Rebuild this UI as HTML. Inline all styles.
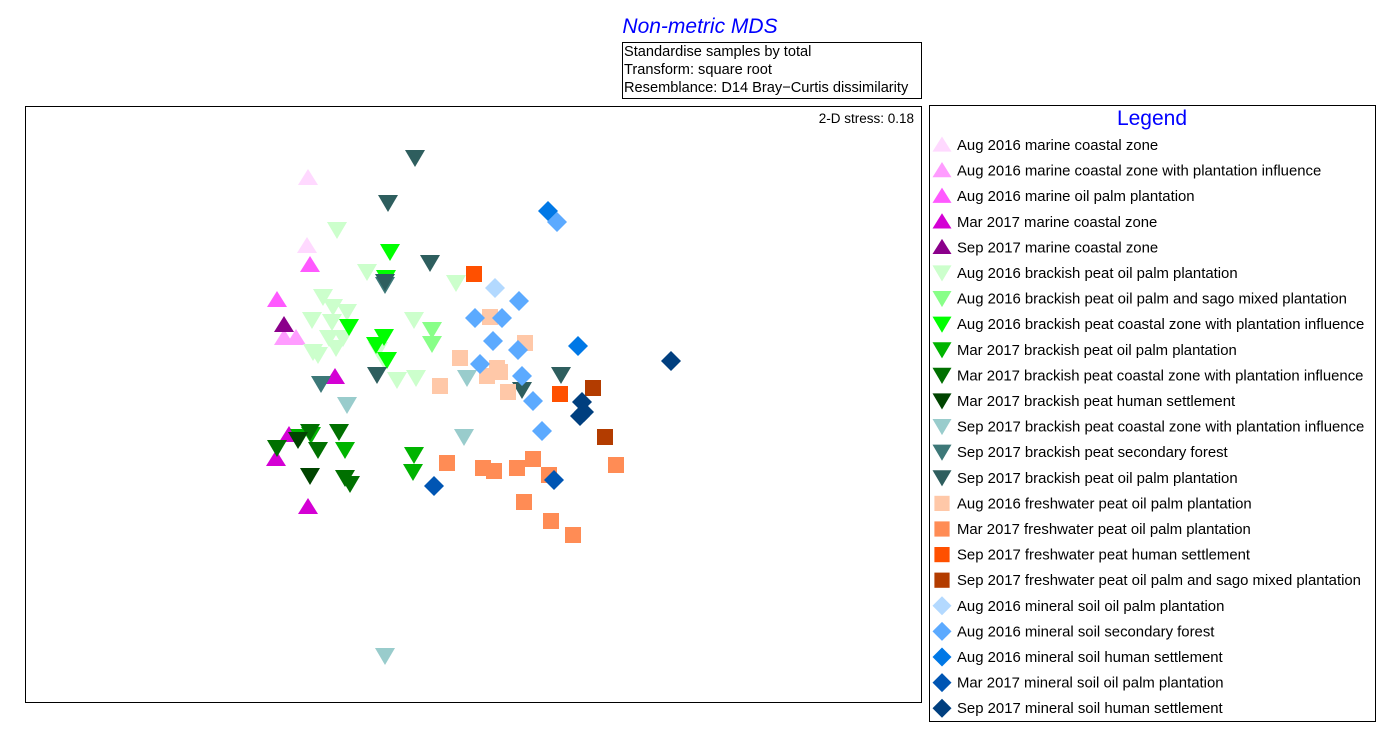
<!DOCTYPE html>
<html><head><meta charset="utf-8"><style>
body{margin:0;background:#fff;font-family:"Liberation Sans",Arial,sans-serif;}
svg text{font-family:"Liberation Sans",Arial,sans-serif;}
</style></head><body>
<svg id="chart" width="1400" height="741" xmlns="http://www.w3.org/2000/svg">
<text x="700" y="33" text-anchor="middle" font-size="21" font-style="italic" fill="#0000ff">Non-metric MDS</text>
<g>
<rect x="622.5" y="42.5" width="299" height="56" fill="none" stroke="#000"/>
<text x="624" y="56" font-size="14.6">Standardise samples by total</text>
<text x="624" y="74" font-size="14.6">Transform: square root</text>
<text x="624" y="92" font-size="14.6">Resemblance: D14 Bray−Curtis dissimilarity</text>
</g>
<rect x="25.5" y="106.5" width="896" height="596" fill="none" stroke="#000"/>
<text x="914" y="123" text-anchor="end" font-size="13.5">2-D stress: 0.18</text>
<rect x="929.5" y="105.5" width="446" height="616" fill="none" stroke="#000"/>
<text x="1152" y="125" text-anchor="middle" font-size="21" fill="#0000ff">Legend</text>
<g id="marks"></g>
<g id="legend"></g>
</svg>
<script>
const groupNames=["Aug 2016 marine coastal zone","Aug 2016 marine coastal zone with plantation influence","Aug 2016 marine oil palm plantation","Mar 2017 marine coastal zone","Sep 2017 marine coastal zone","Aug 2016 brackish peat oil palm plantation","Aug 2016 brackish peat oil palm and sago mixed plantation","Aug 2016 brackish peat coastal zone with plantation influence","Mar 2017 brackish peat oil palm plantation","Mar 2017 brackish peat coastal zone with plantation influence","Mar 2017 brackish peat human settlement","Sep 2017 brackish peat coastal zone with plantation influence","Sep 2017 brackish peat secondary forest","Sep 2017 brackish peat oil palm plantation","Aug 2016 freshwater peat oil palm plantation","Mar 2017 freshwater peat oil palm plantation","Sep 2017 freshwater peat human settlement","Sep 2017 freshwater peat oil palm and sago mixed plantation","Aug 2016 mineral soil oil palm plantation","Aug 2016 mineral soil secondary forest","Aug 2016 mineral soil human settlement","Mar 2017 mineral soil oil palm plantation","Sep 2017 mineral soil human settlement"];
const groupColors=["#ffd9ff","#ff9cff","#ff59ff","#d400d4","#8b008b","#ccffcc","#88ff88","#00ff00","#00b400","#007000","#004400","#99cccc","#3d7878","#2e5e5e","#ffc8a8","#ff8c55","#ff5000","#b33c00","#b3d9ff","#5caaff","#0078e6","#0055b3","#003f7f"];
const groupShapes=["up","up","up","up","up","down","down","down","down","down","down","down","down","down","sq","sq","sq","sq","dia","dia","dia","dia","dia"];
// MDS coordinates per group: [x,y] pairs
const groupPoints=[
[[-1.65,2.26],[-1.66,1.58]],
[[-1.89,0.66],[-1.77,0.66]],
[[-1.63,1.39],[-1.96,1.04]],
[[-1.38,0.27],[-1.84,-0.31],[-1.97,-0.55],[-1.65,-1.03]],
[[-1.89,0.79]],
[[-1.36,1.74],[-1.06,1.32],[-0.17,1.21],[-1.50,1.07],[-1.40,0.97],[-1.26,0.92],[-1.61,0.84],[-1.41,0.82],[-1.44,0.66],[-1.30,0.66],[-1.60,0.52],[-1.37,0.56],[-1.55,0.49],[-0.95,0.54],[-0.76,0.24],[-0.57,0.26],[-0.59,0.84],[-0.89,0.44]],
[[-0.41,0.74],[-0.41,0.60]],
[[-0.83,1.52],[-0.87,1.26],[-1.24,0.77],[-0.89,0.67],[-0.97,0.59],[-0.86,0.44]],
[[-1.73,-0.33],[-1.28,-0.46],[-0.59,-0.51],[-0.60,-0.68],[-1.62,-0.31]],
[[-1.63,-0.28],[-1.96,-0.44],[-1.34,-0.28],[-1.55,-0.46],[-1.23,-0.80],[-1.28,-0.74]],
[[-1.75,-0.36],[-1.63,-0.72]],
[[-1.26,-0.01],[-0.06,0.26],[-0.09,-0.33],[-0.88,-2.52]],
[[-1.52,0.20],[-0.88,1.19]],
[[-0.58,2.46],[-0.85,2.01],[-0.43,1.41],[-0.88,1.22],[-0.96,0.29],[0.88,0.29],[0.49,0.14]],
[[0.17,0.87],[0.52,0.61],[-0.13,0.46],[0.24,0.36],[0.14,0.28],[-0.33,0.18],[0.35,0.12],[0.27,0.32]],
[[-0.26,-0.59],[0.10,-0.64],[0.21,-0.67],[0.44,-0.64],[0.60,-0.55],[0.76,-0.71],[0.51,-0.98],[0.78,-1.17],[1.00,-1.31],[1.43,-0.61]],
[[0.01,1.30],[0.87,0.10]],
[[1.20,0.16],[1.32,-0.33]],
[[0.22,1.16]],
[[0.84,1.82],[0.46,1.03],[0.02,0.86],[0.29,0.86],[0.20,0.63],[0.45,0.54],[0.07,0.40],[0.49,0.28],[0.60,0.03],[0.69,-0.27]],
[[0.75,1.93],[1.05,0.58]],
[[-0.39,-0.82],[0.81,-0.76]],
[[1.98,0.43],[1.09,0.02],[1.11,-0.08],[1.07,-0.12]]
];
const xScale=v=>473+v*100;
const yScale=v=>404-v*100;
const NS="http://www.w3.org/2000/svg";
function shape(kind,cx,cy,col,s){
  let el;
  if(kind==="sq"){el=document.createElementNS(NS,"rect");el.setAttribute("x",cx-8*s);el.setAttribute("y",cy-8*s);el.setAttribute("width",16*s);el.setAttribute("height",16*s);}
  else{el=document.createElementNS(NS,"polygon");let p;
    if(kind==="up")p=[[cx,cy-9*s],[cx+10*s,cy+7*s],[cx-10*s,cy+7*s]];
    else if(kind==="down")p=[[cx-10*s,cy-8*s],[cx+10*s,cy-8*s],[cx,cy+9*s]];
    else p=[[cx,cy-10*s],[cx+10*s,cy],[cx,cy+10*s],[cx-10*s,cy]];
    el.setAttribute("points",p.map(q=>q.join(",")).join(" "));}
  el.setAttribute("fill",col);
  return el;
}
const marks=document.getElementById("marks");
groupPoints.forEach((pts,g)=>{pts.forEach(([x,y],i)=>{
  const el=shape(groupShapes[g],xScale(x),yScale(y),groupColors[g],1);
  
  
  marks.appendChild(el);});});
const leg=document.getElementById("legend");
groupNames.forEach((n,g)=>{
  const y=145+g*25.6;
  const m=shape(groupShapes[g],942,y,groupColors[g],0.95);
  
  
  leg.appendChild(m);
  const t=document.createElementNS(NS,"text");
  t.setAttribute("x",957);t.setAttribute("y",y+5);t.setAttribute("font-size","14.9");
  t.textContent=n;
  
  
  leg.appendChild(t);
});
</script>
</body></html>
